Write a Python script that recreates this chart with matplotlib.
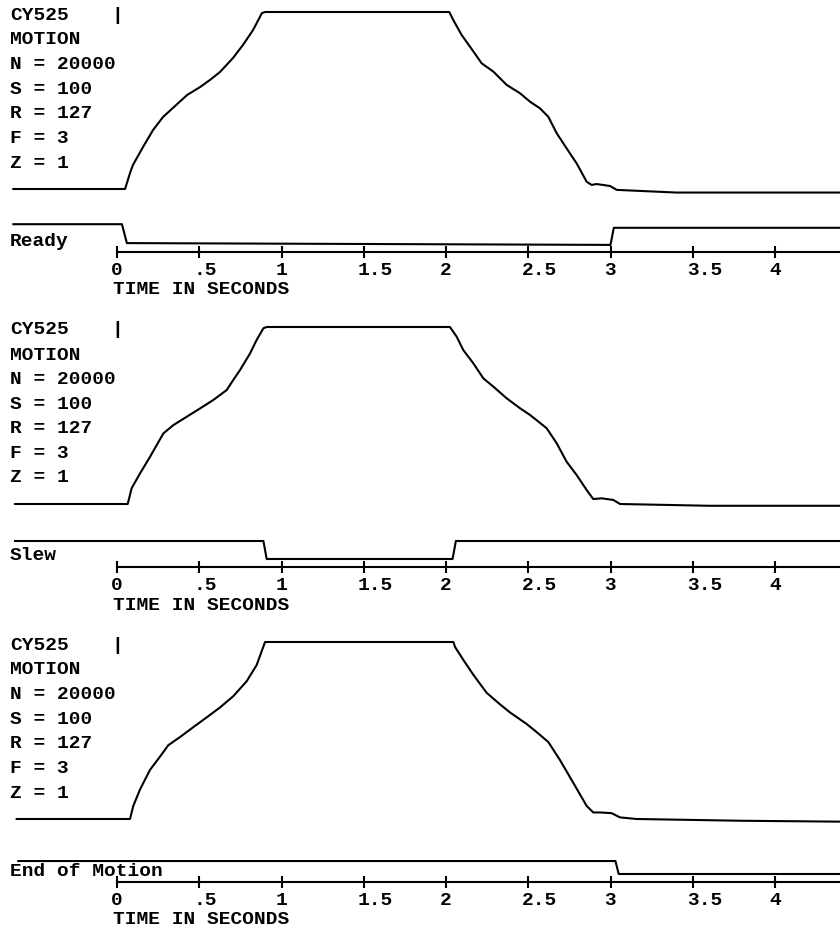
import matplotlib
matplotlib.use('Agg')
import matplotlib.pyplot as plt
from matplotlib.transforms import ScaledTranslation

# page size in pixels, one panel every 315 px
W, H = 840, 931
PANEL = 315
PX_PER_S = 164.5
T0 = -117 / PX_PER_S          # left edge of page in seconds
T1 = (W - 117) / PX_PER_S     # right edge of page in seconds

# time axis
tick_vals = [0, 0.5, 1, 1.5, 2, 2.5, 3, 3.5, 4]
tick_labels = ['0', '.5', '1', '1.5', '2', '2.5', '3', '3.5', '4']
axis_title = 'TIME IN SECONDS'

# settings printed on every trace
header = 'CY525'
settings = ['MOTION', 'N = 20000', 'S = 100', 'R = 127', 'F = 3', 'Z = 1']

# motion traces (position, 0 = start, 1 = end of move)
ready_t = [-0.63, 0.049, 0.079, 0.097, 0.158, 0.219, 0.280, 0.340, 0.426, 0.505,
           0.565, 0.626, 0.705, 0.766, 0.827, 0.881, 0.90, 1.4, 2.02,
           2.044, 2.095, 2.146, 2.217, 2.288, 2.369, 2.450, 2.511, 2.571, 2.622,
           2.673, 2.733, 2.794, 2.855, 2.885, 2.916, 2.997, 3.038, 3.4, 3.9, 4.4]
ready_pos = [0.0, 0.0, 0.09, 0.136, 0.237, 0.333, 0.407, 0.458, 0.531, 0.576,
             0.616, 0.661, 0.740, 0.814, 0.898, 0.994, 1.0, 1.0, 1.0,
             0.955, 0.870, 0.804, 0.710, 0.663, 0.588, 0.541, 0.493, 0.456, 0.408,
             0.315, 0.230, 0.145, 0.041, 0.023, 0.028, 0.017, -0.005, -0.02, -0.02, -0.02]

slew_t = [-0.62, 0.065, 0.089, 0.14, 0.201, 0.282, 0.343, 0.424, 0.505, 0.586,
          0.667, 0.707, 0.748, 0.809, 0.849, 0.890, 0.91, 1.5, 2.024,
          2.065, 2.105, 2.166, 2.227, 2.288, 2.369, 2.450, 2.511, 2.612, 2.673,
          2.733, 2.794, 2.855, 2.895, 2.946, 3.017, 3.058, 3.6, 4.4]
slew_pos = [0.0, 0.0, 0.089, 0.173, 0.267, 0.399, 0.446, 0.493, 0.540, 0.588,
            0.644, 0.701, 0.757, 0.851, 0.927, 0.993, 1.0, 1.0, 1.0,
            0.945, 0.870, 0.795, 0.710, 0.663, 0.597, 0.541, 0.503, 0.428, 0.343,
            0.239, 0.164, 0.079, 0.028, 0.032, 0.023, 0.0, -0.01, -0.01]

eom_t = [-0.61, 0.079, 0.099, 0.140, 0.201, 0.261, 0.312, 0.383, 0.464, 0.545,
         0.626, 0.707, 0.788, 0.849, 0.900, 1.5, 2.045,
         2.055, 2.106, 2.166, 2.247, 2.328, 2.389, 2.490, 2.551, 2.622, 2.693,
         2.774, 2.855, 2.895, 2.936, 3.007, 3.058, 3.159, 3.8, 4.4]
eom_pos = [0.0, 0.0, 0.074, 0.167, 0.278, 0.352, 0.417, 0.463, 0.519, 0.574,
           0.630, 0.694, 0.778, 0.870, 1.0, 1.0, 1.0,
           0.972, 0.898, 0.815, 0.713, 0.648, 0.602, 0.537, 0.491, 0.435, 0.333,
           0.204, 0.074, 0.037, 0.037, 0.033, 0.009, 0.0, -0.01, -0.015]

# logic signals (1 = high level, 0 = low level)
signal_names = ['Ready', 'Slew', 'End of Motion']
ready_sig_t = [-0.63, 0.03, 0.06, 3.00, 3.02, 4.4]
ready_sig = [1.1, 1.1, 0.05, -0.05, 0.9, 0.9]
slew_sig_t = [-0.62, 0.89, 0.91, 2.04, 2.06, 4.4]
slew_sig = [1.0, 1.0, 0.0, 0.0, 1.0, 1.0]
eom_sig_t = [-0.60, 3.03, 3.05, 4.4]
eom_sig = [0.72, 0.72, 0.0, 0.0]

motions = [(ready_t, ready_pos), (slew_t, slew_pos), (eom_t, eom_pos)]
signals = [(ready_sig_t, ready_sig), (slew_sig_t, slew_sig), (eom_sig_t, eom_sig)]

FAMILY = 'Liberation Mono'
SIZE = 14
font = dict(family=FAMILY, size=SIZE, weight='bold', color='black')

fig = plt.figure(figsize=(W / 100, H / 100), dpi=100)


def px_axes(top, bottom):
    # axes spanning the whole page width between two pixel rows
    ax = fig.add_axes([0, 1 - bottom / H, 1, (bottom - top) / H])
    ax.set_xlim(T0, T1)
    return ax


for i in range(3):
    off = PANEL * i

    # motion trace
    ax = px_axes(12 + off, 189 + off)
    ax.set_ylim(0, 1)
    ax.axis('off')
    ax.plot(motions[i][0], motions[i][1], color='black', lw=1.5, clip_on=False)

    # logic signal
    ax = px_axes(226 + off, 244 + off)
    ax.set_ylim(0, 1)
    ax.axis('off')
    ax.plot(signals[i][0], signals[i][1], color='black', lw=1.5, clip_on=False)

    # time axis
    ax = px_axes(230 + off, 252 + off)
    ax.patch.set_alpha(0)
    for s in ['top', 'left', 'right']:
        ax.spines[s].set_visible(False)
    ax.spines['bottom'].set_bounds(0, T1)
    ax.spines['bottom'].set_linewidth(1.5)
    ax.set_yticks([])
    ax.set_xticks(tick_vals, tick_labels)
    ax.tick_params(axis='x', direction='inout', length=8, width=1.5, pad=3.5)
    for lab in ax.get_xticklabels():
        lab.set_fontfamily(FAMILY)
        lab.set_fontsize(SIZE)
        lab.set_fontweight('bold')
        lab.set_ha('left')
        lab.set_transform(lab.get_transform() + ScaledTranslation(-0.06, 0, fig.dpi_scale_trans))

    fig.text(113 / W, 1 - (290 + off) / H, axis_title, va='center', ha='left', **font)
    fig.text(10 / W, 1 - (241 + off) / H, signal_names[i], va='center', ha='left', **font)

    # settings block
    fig.text(10 / W, 1 - (15 + off) / H, header, va='center', ha='left', **font)
    fig.text(117 / W, 1 - (15 + off) / H, '|', va='center', ha='center', **font)
    for j, line in enumerate(settings):
        fig.text(10 / W, 1 - (40 + 24.6 * j + off) / H, line, va='center', ha='left', **font)

fig.savefig('out.png', dpi=100)
